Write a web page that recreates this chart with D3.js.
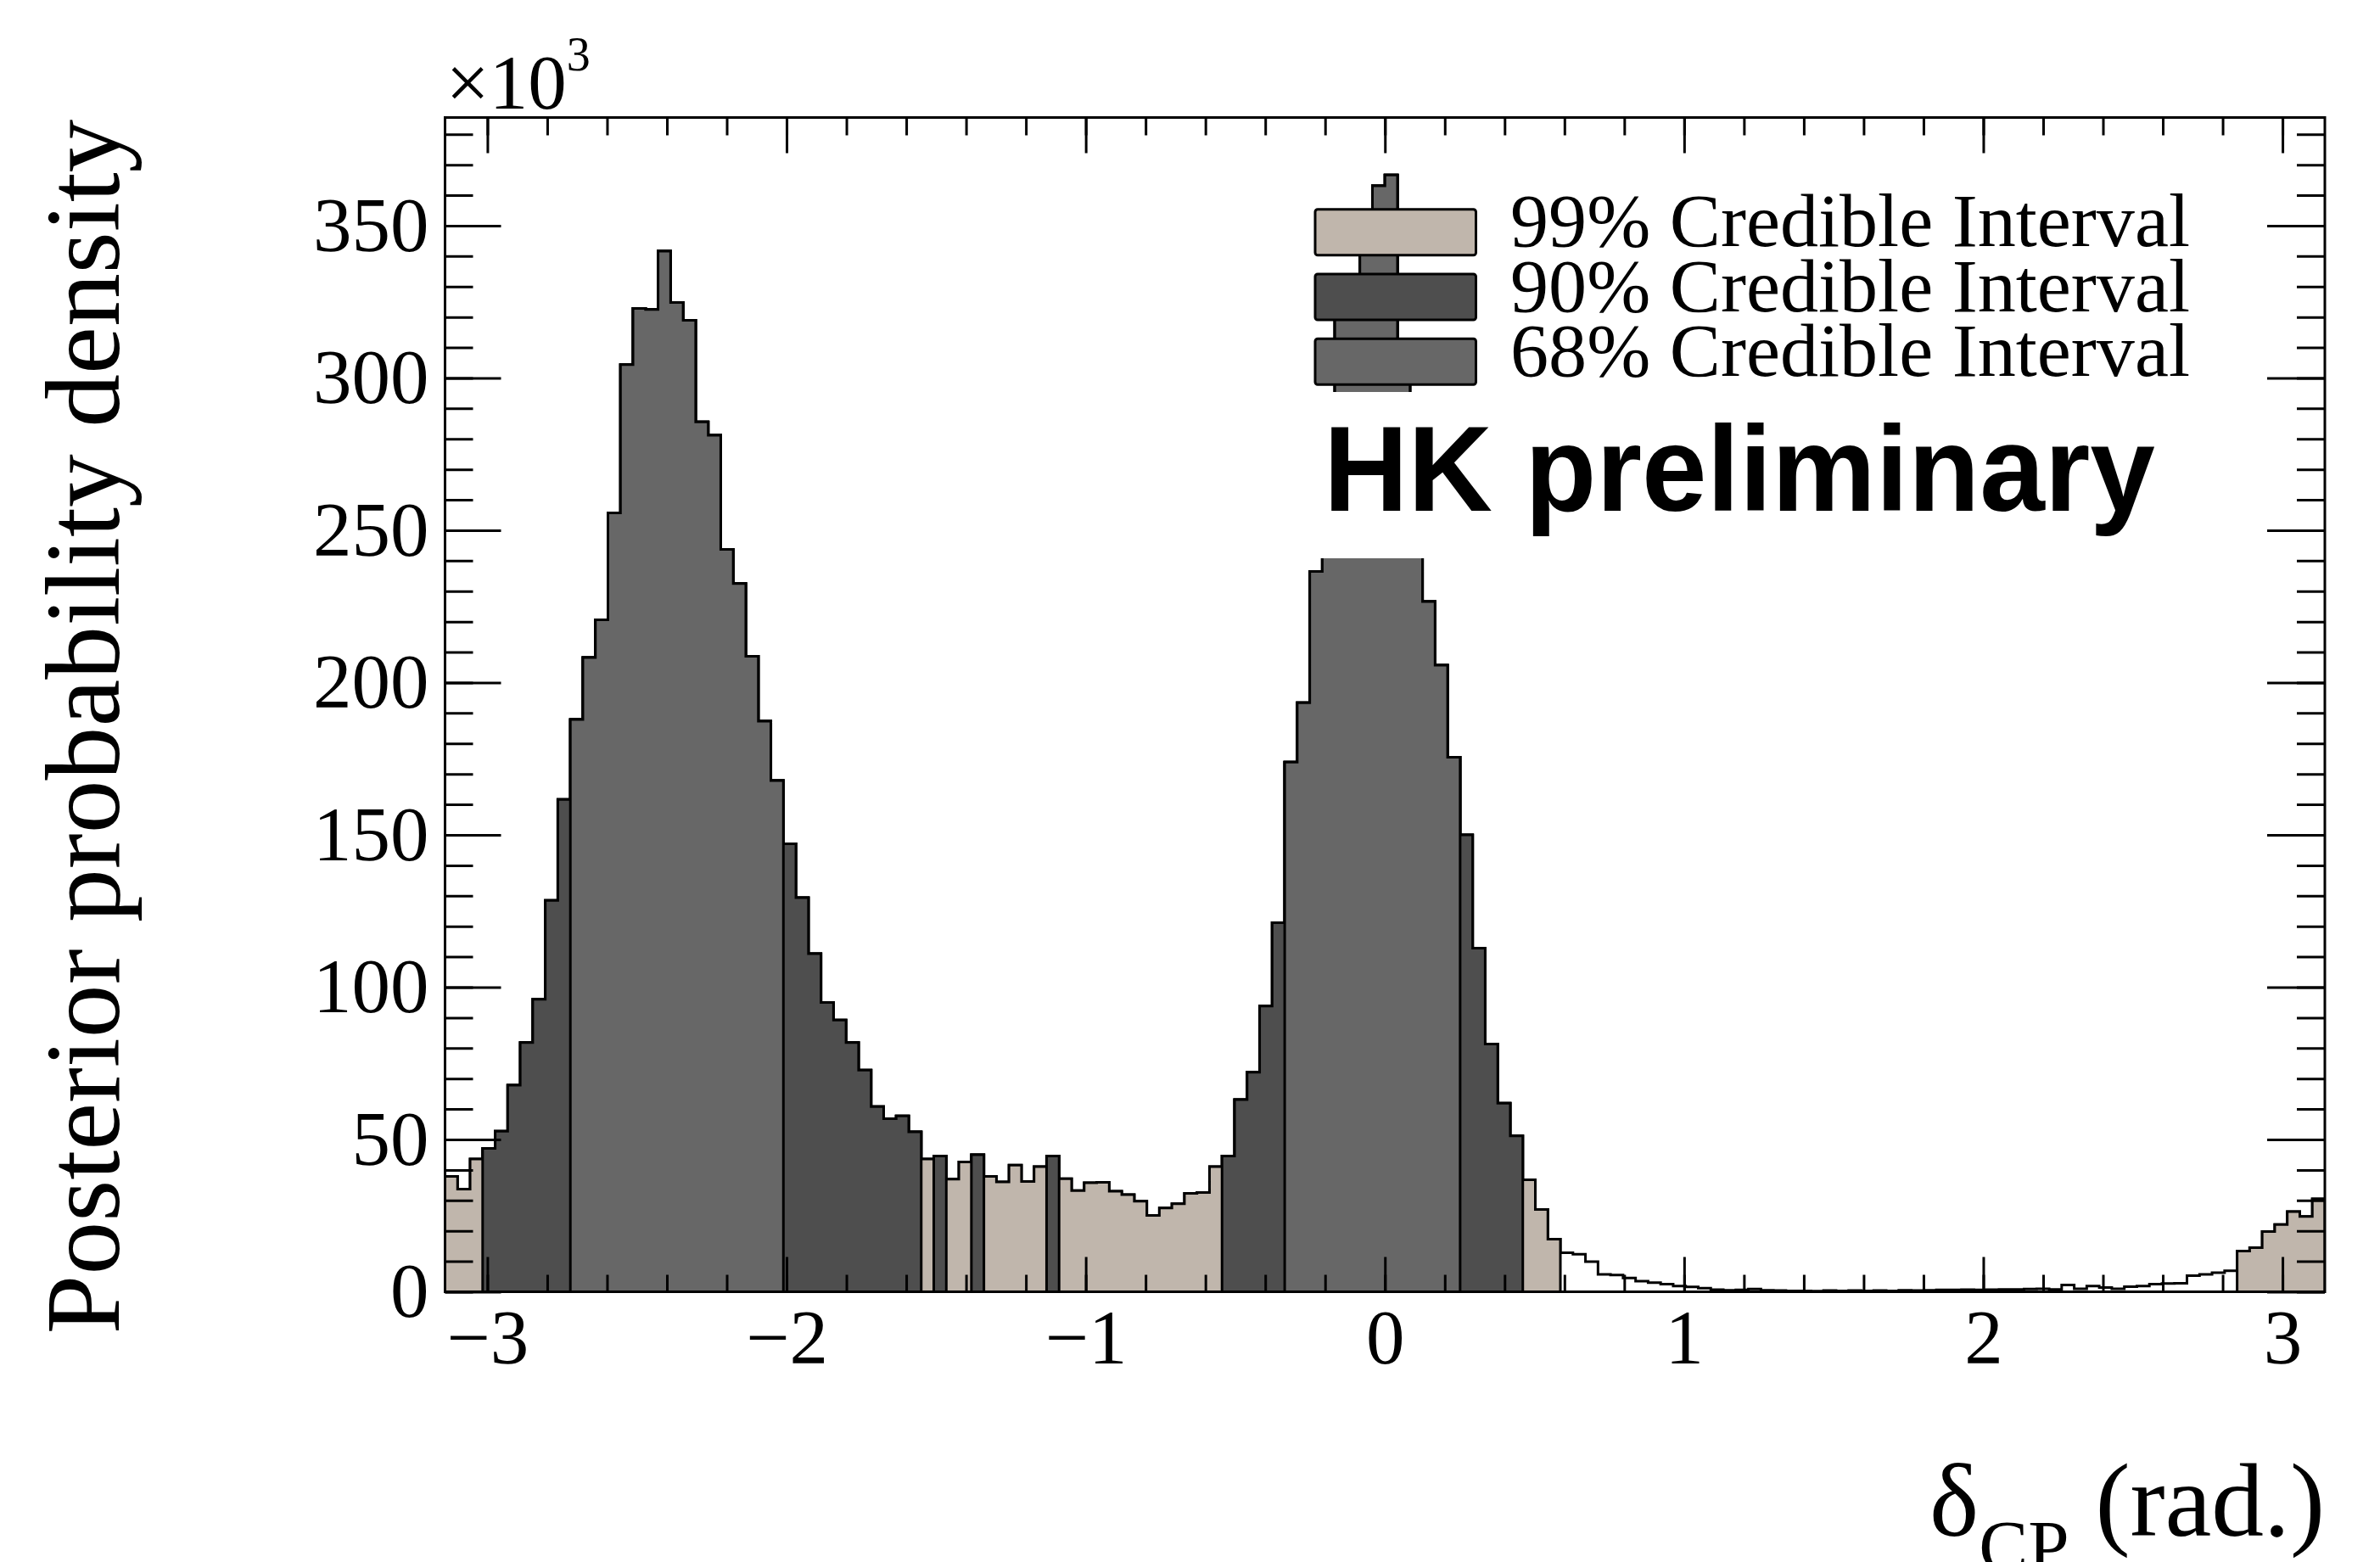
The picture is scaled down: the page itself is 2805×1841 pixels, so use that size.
<!DOCTYPE html>
<html>
<head>
<meta charset="utf-8">
<script src="https://cdn.jsdelivr.net/npm/d3@7"></script>
<style>
  html, body { margin: 0; padding: 0; background: #fff; }
  svg { display: block; }
  text { font-family: "Liberation Serif", "DejaVu Serif", serif; fill: #000; }
</style>
</head>
<body>
<div id="chart"></div>
<script>
//
// Posterior of delta_CP with 68/90/99% credible intervals
//

// Bin contents (units of 10^3), 150 bins from -pi to pi
const binValues = [
    37.9, 33.7, 43.6, 47.1, 52.7, 67.8, 81.8, 96.0, 128.5, 161.6,
    187.9, 208.2, 220.6, 255.7, 304.4, 322.8, 322.5, 341.6, 324.8, 318.9,
    285.6, 281.2, 243.7, 232.5, 208.6, 187.3, 167.8, 147.1, 129.4, 111.0,
    95.0, 89.2, 81.8, 72.8, 60.8, 56.8, 57.7, 52.5, 43.6, 44.6,
    37.0, 42.6, 45.0, 37.9, 36.1, 41.6, 36.2, 41.1, 44.6, 37.1,
    33.2, 35.8, 35.9, 33.0, 31.9, 29.7, 25.1, 27.5, 28.9, 32.3,
    32.6, 41.1, 44.6, 63.1, 72.1, 93.8, 121.2, 173.9, 193.4, 236.5,
    268.0, 325.0, 331.0, 350.0, 363.1, 366.6, 305.0, 265.0, 226.6, 205.7,
    175.5, 150.0, 112.8, 81.3, 61.9, 51.2, 36.8, 27.0, 17.3, 12.8,
    12.3, 9.9, 5.7, 5.5, 4.5, 3.5, 3.0, 2.5, 1.9, 1.6,
    1.2, 0.7, 0.5, 0.6, 0.9, 0.5, 0.4, 0.3, 0.3, 0.2,
    0.4, 0.3, 0.4, 0.3, 0.4, 0.3, 0.5, 0.4, 0.5, 0.6,
    0.6, 0.7, 0.6, 0.7, 0.8, 0.8, 0.9, 1.0, 0.8, 2.2,
    1.0, 1.9, 1.4, 1.0, 1.7, 1.9, 2.5, 2.7, 2.8, 5.3,
    5.7, 6.3, 6.9, 13.4, 14.5, 19.8, 22.1, 26.3, 24.7, 30.5
];

// Credible intervals, widest first, and the lowest bin height inside each
const intervalNames = ['99% Credible Interval', '90% Credible Interval', '68% Credible Interval'];
const intervalThresholds = [13.1, 44.1, 165];

// Axis ticks
const xTickValues = [-3, -2, -1, 0, 1, 2, 3];
const yTickValues = [0, 50, 100, 150, 200, 250, 300, 350];
const yAxisMax = 385.5;

// Fill colours for the intervals
const intervalColors = ['#c0b6ac', '#4e4e4e', '#676767'];

// Dimensions
let width = 2805;
let height = 1841;
let margin = {top: 138.5, right: 65, bottom: 318.5, left: 524.5};
let plotBottom = height - margin.bottom;
let plotRight = width - margin.right;

let svg = d3.select('#chart')
    .append('svg')
    .attr('width', width)
    .attr('height', height);

let x = d3.scaleLinear()
    .domain([-Math.PI, Math.PI])
    .range([margin.left, plotRight]);

let y = d3.scaleLinear()
    .domain([0, yAxisMax])
    .range([plotBottom, margin.top]);

svg.append('clipPath')
    .attr('id', 'plot-clip')
    .append('rect')
    .attr('x', margin.left)
    .attr('y', margin.top)
    .attr('width', plotRight - margin.left)
    .attr('height', plotBottom - margin.top);

// Bin edges and step points
let nBins = binValues.length;
let binWidth = 2 * Math.PI / nBins;
let edges = d3.range(nBins + 1).map(function(i) {
    return -Math.PI + i * binWidth;
});

function stepPoints(vals) {
    let pts = vals.map(function(v, i) { return [edges[i], v]; });
    pts.push([edges[nBins], vals[nBins - 1]]);
    return pts;
}

let area = d3.area()
    .curve(d3.curveStepAfter)
    .x(function(d) { return x(d[0]); })
    .y0(y(0))
    .y1(function(d) { return y(d[1]); });

let line = d3.line()
    .curve(d3.curveStepAfter)
    .x(function(d) { return x(d[0]); })
    .y(function(d) { return y(d[1]); });

let hist = svg.append('g').attr('clip-path', 'url(#plot-clip)');

// Full posterior outline
hist.append('path')
    .attr('d', line(stepPoints(binValues)))
    .attr('fill', 'none')
    .attr('stroke', '#000')
    .attr('stroke-width', 3);

// One filled histogram per interval, drawn widest first
intervalThresholds.forEach(function(thr, k) {
    let vals = binValues.map(function(v) { return v >= thr ? v : 0; });
    hist.append('path')
        .attr('d', area(stepPoints(vals)))
        .attr('fill', intervalColors[k])
        .attr('stroke', '#000')
        .attr('stroke-width', 3)
        .attr('stroke-linejoin', 'miter');
});

// Axes: ticks inside the frame on all four sides
let xMinor = d3.range(-15, 16).map(function(k) { return k * 0.2; })
    .filter(function(v) { return Math.abs(v) <= Math.PI; });
let yMinor = d3.range(0, yAxisMax, 10);

function styleAxis(g) {
    g.select('.domain').remove();
    g.selectAll('line').attr('stroke', '#000').attr('stroke-width', 3);
    g.selectAll('text')
        .style('font-family', '"Liberation Serif", serif')
        .style('font-size', '91px')
        .attr('fill', '#000');
}

svg.append('g')
    .attr('transform', 'translate(0,' + plotBottom + ')')
    .call(d3.axisBottom(x).tickValues(xMinor).tickSize(-20).tickFormat(''))
    .call(styleAxis);

svg.append('g')
    .attr('transform', 'translate(0,' + plotBottom + ')')
    .call(d3.axisBottom(x).tickValues(xTickValues).tickSize(-41).tickPadding(20)
        .tickFormat(d3.format('d')))
    .call(styleAxis);

svg.append('g')
    .attr('transform', 'translate(0,' + margin.top + ')')
    .call(d3.axisTop(x).tickValues(xMinor).tickSize(-21).tickFormat(''))
    .call(styleAxis);

svg.append('g')
    .attr('transform', 'translate(0,' + margin.top + ')')
    .call(d3.axisTop(x).tickValues(xTickValues).tickSize(-42).tickFormat(''))
    .call(styleAxis);

svg.append('g')
    .attr('transform', 'translate(' + margin.left + ',0)')
    .call(d3.axisLeft(y).tickValues(yMinor).tickSize(-33).tickFormat(''))
    .call(styleAxis);

svg.append('g')
    .attr('transform', 'translate(' + margin.left + ',0)')
    .call(d3.axisLeft(y).tickValues(yTickValues).tickSize(-66).tickPadding(19)
        .tickFormat(d3.format('d')))
    .call(styleAxis);

svg.append('g')
    .attr('transform', 'translate(' + plotRight + ',0)')
    .call(d3.axisRight(y).tickValues(yMinor).tickSize(-33).tickFormat(''))
    .call(styleAxis);

svg.append('g')
    .attr('transform', 'translate(' + plotRight + ',0)')
    .call(d3.axisRight(y).tickValues(yTickValues).tickSize(-68).tickFormat(''))
    .call(styleAxis);

// Frame
svg.append('rect')
    .attr('x', margin.left)
    .attr('y', margin.top)
    .attr('width', plotRight - margin.left)
    .attr('height', plotBottom - margin.top)
    .attr('fill', 'none')
    .attr('stroke', '#000')
    .attr('stroke-width', 3);

// Exponent label
let expo = svg.append('text')
    .attr('x', margin.left + 1)
    .attr('y', 128)
    .style('font-size', '91px');
expo.append('tspan').text('\u00d710');
expo.append('tspan').attr('dy', -45).style('font-size', '56px').text('3');

// Axis titles
svg.append('text')
    .attr('transform', 'translate(140,' + (margin.top + 2) + ') rotate(-90)')
    .attr('text-anchor', 'end')
    .attr('textLength', 1432)
    .attr('lengthAdjust', 'spacingAndGlyphs')
    .style('font-size', '124px')
    .text('Posterior probability density');

let xTitle = svg.append('text')
    .attr('x', plotRight)
    .attr('y', 1810)
    .attr('text-anchor', 'end')
    .attr('textLength', 466)
    .attr('lengthAdjust', 'spacingAndGlyphs')
    .style('font-size', '122px');
xTitle.append('tspan').text('\u03b4');
xTitle.append('tspan').attr('dy', 42).style('font-size', '86px').text('CP');
xTitle.append('tspan').attr('dy', -42).text(' (rad.)');

// Label with white background covering the histogram
svg.append('rect')
    .attr('x', 1545)
    .attr('y', 462)
    .attr('width', 1015)
    .attr('height', 196)
    .attr('fill', '#fff');

svg.append('text')
    .attr('x', 1560)
    .attr('y', 602)
    .attr('textLength', 980)
    .attr('lengthAdjust', 'spacingAndGlyphs')
    .style('font-family', '"Liberation Sans", Arial, sans-serif')
    .style('font-weight', 'bold')
    .style('font-size', '142px')
    .text('HK preliminary');

// Legend (transparent background)
let legend = svg.append('g');
let legendTop = 246.7;
let legendStep = 76.3;

intervalNames.forEach(function(name, k) {
    let row = legend.append('g')
        .attr('transform', 'translate(1550,' + (legendTop + k * legendStep) + ')');
    row.append('rect')
        .attr('width', 189.5)
        .attr('height', 54)
        .attr('rx', 3)
        .attr('fill', intervalColors[k])
        .attr('stroke', '#000')
        .attr('stroke-width', 3);
    row.append('text')
        .attr('x', 230)
        .attr('y', 43.5)
        .attr('textLength', 801)
        .attr('lengthAdjust', 'spacingAndGlyphs')
        .style('font-size', '89px')
        .text(name);
});
</script>
</body>
</html>
